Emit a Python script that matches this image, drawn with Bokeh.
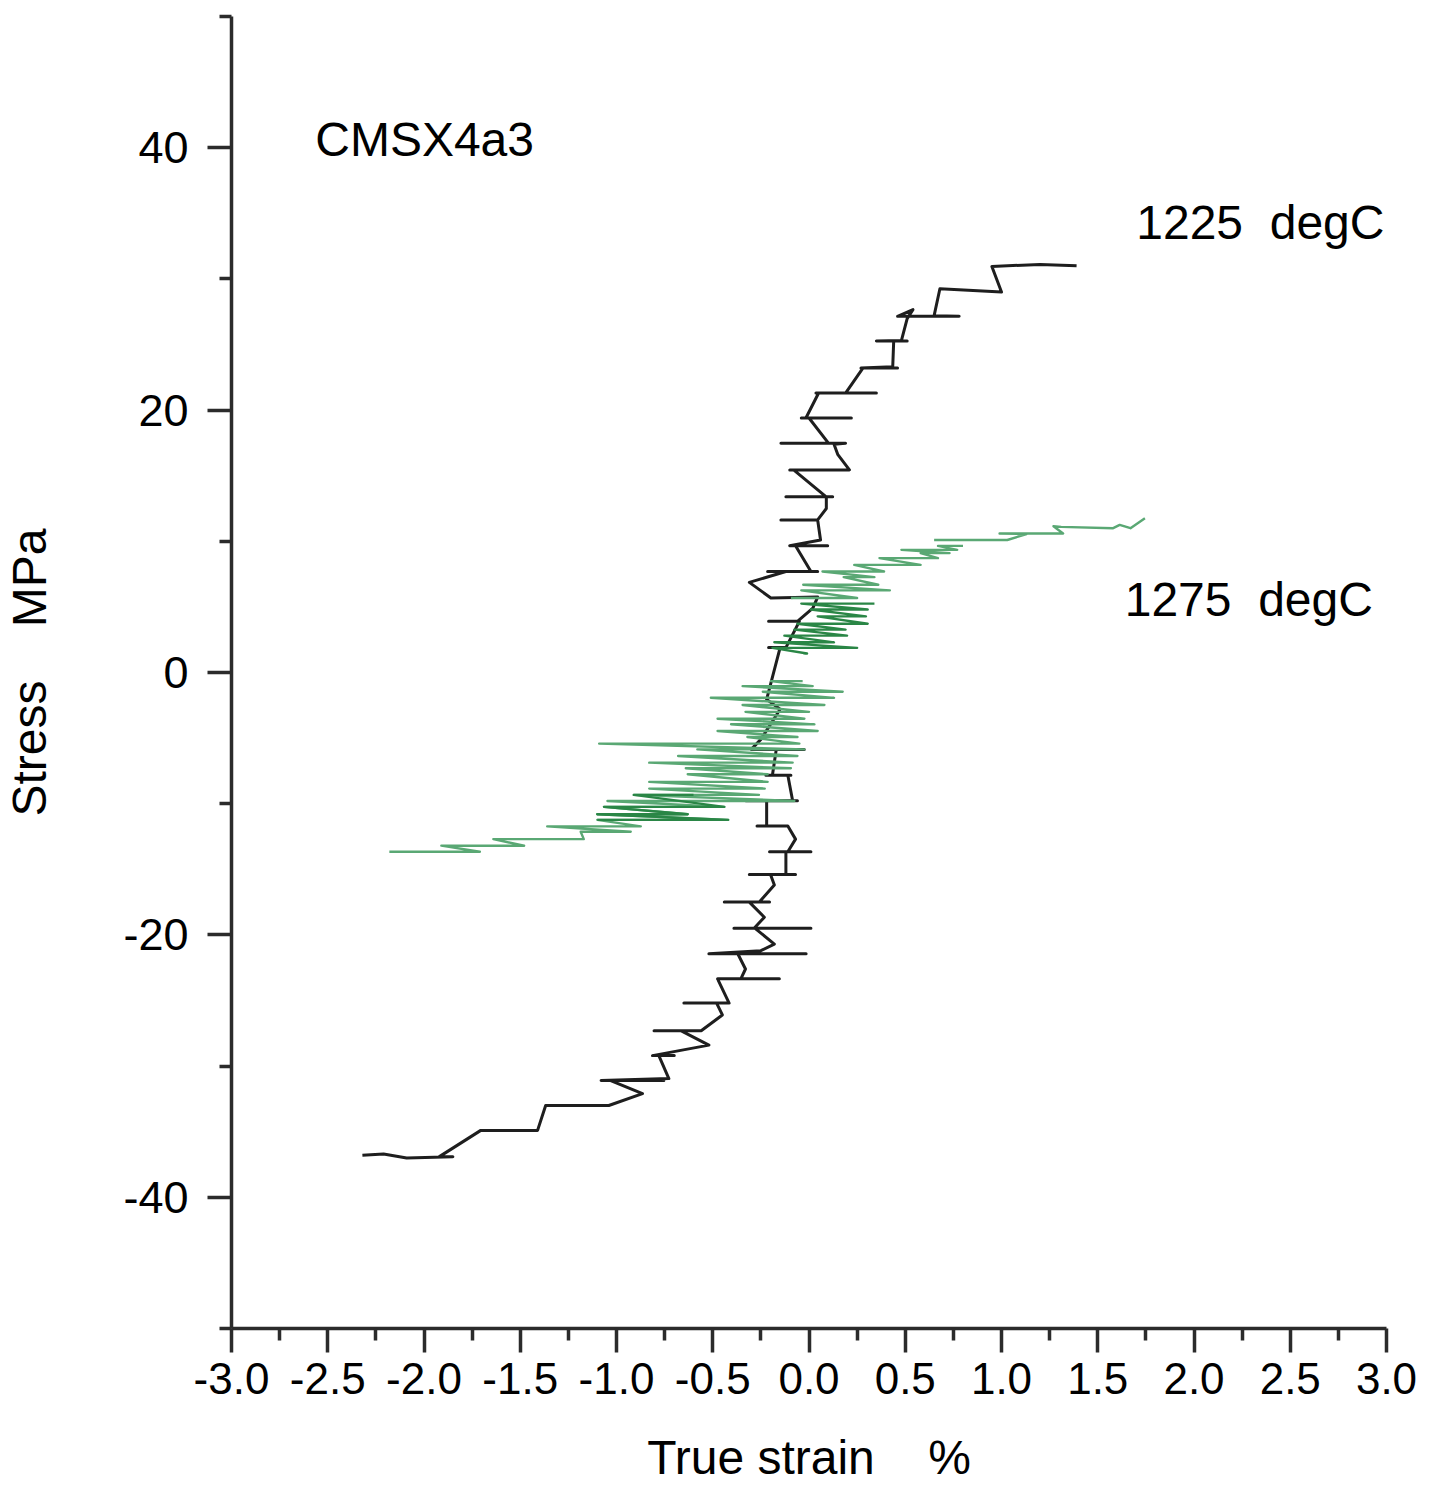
from bokeh.plotting import figure
from bokeh.models import Range1d, FixedTicker, Label
from bokeh.embed import file_html
from bokeh.resources import INLINE

# ---------------- data ----------------
x_ticks = [-3.0, -2.5, -2.0, -1.5, -1.0, -0.5, 0.0, 0.5, 1.0, 1.5, 2.0, 2.5, 3.0]
x_tick_labels = ["-3.0", "-2.5", "-2.0", "-1.5", "-1.0", "-0.5", "0.0", "0.5",
                 "1.0", "1.5", "2.0", "2.5", "3.0"]
x_minor = [-2.75, -2.25, -1.75, -1.25, -0.75, -0.25, 0.25, 0.75, 1.25, 1.75, 2.25, 2.75]
y_ticks = [-40, -20, 0, 20, 40]
y_tick_labels = ["-40", "-20", "0", "20", "40"]
y_minor = [-50, -30, -10, 10, 30, 50]

# 1225 degC curve (strain %, stress MPa)
black_strain = [1.39, 1.20, 0.95, 1.00, 0.68, 0.65, 0.78, 0.46, 0.54, 0.51, 0.48, 0.35, 0.51, 0.44,
                0.435, 0.27, 0.46, 0.28, 0.19, 0.036, 0.35, 0.05, -0.016, -0.04, 0.22, 0.0,
                0.10, -0.146, 0.19, 0.13, 0.15, 0.21, -0.10, -0.08, 0.088, -0.12, 0.123, 0.09,
                0.09, 0.045, -0.146, 0.045, 0.06, -0.10, 0.097, -0.07, 0.01, -0.215, 0.045, -0.12,
                -0.31, -0.198, 0.045, 0.02, -0.06, -0.21, -0.05, -0.12, -0.21, -0.15,
                -0.22, -0.15, -0.25, -0.30, -0.025, -0.17, -0.19, -0.224, -0.094, -0.11,
                -0.085, -0.328, -0.06, -0.22, -0.22, -0.27, -0.11, -0.07, -0.11, -0.205, 0.01,
                -0.12, -0.12, -0.31, -0.07, -0.20, -0.18, -0.258, -0.44, -0.205, -0.31, -0.232,
                -0.285, -0.39, 0.01, -0.28, -0.18, -0.25, -0.52, -0.015, -0.37, -0.33, -0.354,
                -0.475, -0.154, -0.475, -0.415, -0.65, -0.415, -0.48, -0.45, -0.56, -0.805,
                -0.56, -0.666, -0.52, -0.813, -0.70, -0.78, -0.728, -1.08, -0.754, -1.03,
                -0.865, -1.04, -1.368, -1.41, -1.705, -1.92, -1.85, -2.09, -2.21, -2.32]
black_stress = [31.0, 31.1, 30.95, 29.0, 29.25, 27.2, 27.15, 27.15, 27.66, 26.97, 25.3, 25.27, 25.27, 25.27,
                23.3, 23.2, 23.2, 23.2, 21.3, 21.3, 21.3, 21.3, 19.4, 19.4, 19.4, 19.4,
                17.5, 17.47, 17.47, 17.4, 16.6, 15.44, 15.44, 15.44, 13.4, 13.4, 13.4, 13.4,
                12.5, 11.63, 11.63, 11.63, 10.1, 9.66, 9.66, 9.66, 7.7, 7.7, 7.7, 7.7,
                6.87, 5.68, 5.75, 4.9, 3.9, 3.9, 3.9, 1.9, 1.9, 1.9,
                -2.05, -2.8, -5.1, -5.86, -5.86, -5.86, -7.83, -7.83, -7.83, -7.83,
                -9.78, -9.78, -9.78, -9.78, -11.7, -11.7, -11.7, -12.7, -13.66, -13.66, -13.66,
                -13.66, -15.4, -15.4, -15.4, -15.4, -16.2, -17.5, -17.5, -17.5, -17.5, -18.65,
                -19.5, -19.5, -19.5, -19.5, -20.7, -21.2, -21.44, -21.44, -21.44, -22.6, -23.35,
                -23.35, -23.35, -23.35, -25.2, -25.2, -25.2, -25.2, -26.1, -27.3, -27.3,
                -27.3, -27.3, -28.4, -29.2, -29.2, -29.2, -30.95, -31.1, -31.1, -31.1,
                -32.1, -33.0, -33.0, -34.9, -34.9, -36.9, -36.9, -37.0, -36.7, -36.8]

# 1275 degC curve: upper tail (single line)
g_tail_strain = [1.745, 1.67, 1.614, 1.58, 1.31, 1.27, 1.32, 1.10, 0.99, 1.13, 1.03, 0.65]
g_tail_stress = [11.76, 11.0, 11.25, 11.0, 11.1, 11.15, 10.6, 10.6, 10.6, 10.55, 10.1, 10.1]
# 1275 degC, light-green hatch above zero (stress level, strain left end, strain right end)
g1_stress = [9.65, 9.35, 9.1, 8.72, 8.2, 7.7, 7.27, 6.69, 6.26, 5.68]
g1_left = [0.67, 0.48, 0.58, 0.366, 0.235, 0.07, 0.18, -0.03, -0.04, -0.094]
g1_right = [0.80, 0.77, 0.73, 0.67, 0.58, 0.39, 0.34, 0.36, 0.42, 0.25]
# 1275 degC, dark-green hatch near zero
g2_stress = [5.25, 4.8, 4.28, 3.72, 3.27, 2.81, 2.3, 1.88, 1.45]
g2_left = [-0.04, 0.01, 0.045, -0.06, -0.076, -0.128, -0.18, -0.19, -0.03]
g2_right = [0.34, 0.305, 0.296, 0.305, 0.19, 0.198, 0.13, 0.25, -0.01]
# 1275 degC, light-green hatch below zero
g3_stress = [-0.66, -1.04, -1.47, -1.93, -2.48, -3.0, -3.52, -3.95, -4.46, -4.92, -5.42, -5.86,
             -6.36, -6.87, -7.3, -7.76, -8.34, -8.85, -9.33, -9.79, -10.24, -10.8, -11.23,
             -11.73, -12.14, -12.7, -13.2, -13.66]
g3_left = [-0.198, -0.345, -0.24, -0.51, -0.345, -0.33, -0.475, -0.405, -0.475, -0.32, -1.09, -0.58,
           -0.68, -0.83, -0.64, -0.63, -0.83, -0.83, -0.91, -1.047, -1.065, -1.10, -1.10,
           -1.36, -1.186, -1.64, -1.91, -2.18]
g3_right = [-0.033, 0.019, 0.175, 0.13, 0.08, 0.0, -0.024, 0.028, 0.045, -0.06, -0.05, -0.024,
            -0.06, -0.085, -0.094, -0.215, -0.215, -0.23, -0.26, -0.076, -0.44, -0.63, -0.42,
            -0.874, -0.926, -1.17, -1.48, -1.71]
# darker-printed levels inside the negative part
g4_stress = [-9.33, -10.24, -10.8, -11.23]
g4_left = [-0.91, -1.065, -1.10, -1.10]
g4_right = [-0.60, -0.44, -0.63, -0.42]


def hatch(stress, left, right):
    """Each level is run from its right end to its left end, then the trace jumps to the next level."""
    xs, ys = [], []
    for s, l, r in zip(stress, left, right):
        xs += [r, l]
        ys += [s, s]
    return xs, ys


FONT = "Liberation Sans"
LIGHT = "#5aa874"
DARK = "#2a8646"
INK = "#1e1e1e"

p = figure(width=1435, height=1486, output_backend="svg", toolbar_location=None,
           x_range=Range1d(-3.0, 3.0), y_range=Range1d(-50, 50),
           min_border_left=228, min_border_right=49, min_border_top=16, min_border_bottom=153)
p.outline_line_color = None
p.xgrid.visible = False
p.ygrid.visible = False
p.background_fill_color = "white"
p.border_fill_color = "white"

# curves
p.line(black_strain, black_stress, line_color=INK, line_width=3, line_join="round")
p.line(g_tail_strain, g_tail_stress, line_color=LIGHT, line_width=2.4, line_join="round")
gx, gy = hatch(g1_stress, g1_left, g1_right)
p.line(gx, gy, line_color=LIGHT, line_width=2.4, line_join="round")
gx, gy = hatch(g2_stress, g2_left, g2_right)
p.line(gx, gy, line_color=DARK, line_width=2.4, line_join="round")
gx, gy = hatch(g3_stress, g3_left, g3_right)
p.line(gx, gy, line_color=LIGHT, line_width=2.4, line_join="round")
gx, gy = hatch(g4_stress, g4_left, g4_right)
p.line(gx, gy, line_color=DARK, line_width=2.4, line_join="round")

# axes
for ax in (p.xaxis[0], p.yaxis[0]):
    ax.axis_line_color = "#2b2b2b"
    ax.axis_line_width = 3.5
    ax.major_tick_line_color = "#2b2b2b"
    ax.major_tick_line_width = 3.5
    ax.minor_tick_line_color = "#2b2b2b"
    ax.minor_tick_line_width = 3.5
    ax.major_tick_in = 0
    ax.minor_tick_in = 0
    ax.major_tick_out = 24
    ax.minor_tick_out = 12
    ax.major_label_text_font = FONT
    ax.major_label_text_font_size = "44px"
    ax.major_label_text_color = "black"
    ax.axis_label_text_font = FONT
    ax.axis_label_text_font_size = "48px"
    ax.axis_label_text_font_style = "normal"
    ax.axis_label_text_color = "black"

p.yaxis.major_label_text_font_size = "45px"
p.xaxis.ticker = FixedTicker(ticks=x_ticks, minor_ticks=x_minor)
p.yaxis.ticker = FixedTicker(ticks=y_ticks, minor_ticks=y_minor)
p.xaxis.major_label_overrides = {t: l for t, l in zip(x_ticks, x_tick_labels)}
p.yaxis.major_label_overrides = {t: l for t, l in zip(y_ticks, y_tick_labels)}
p.xaxis.major_label_standoff = 10
p.yaxis.major_label_standoff = 19
p.xaxis.axis_label = "True strain\u00a0\u00a0\u00a0\u00a0%"
p.yaxis.axis_label = "Stress\u00a0\u00a0\u00a0\u00a0MPa"
p.xaxis.axis_label_standoff = 34
p.yaxis.axis_label_standoff = 64

# annotations
for txt, x, y in [("CMSX4a3", -2.565, 40.6),
                  ("1225\u00a0\u00a0degC", 1.70, 34.3),
                  ("1275\u00a0\u00a0degC", 1.64, 5.6)]:
    p.add_layout(Label(x=x, y=y, text=txt, text_font=FONT, text_font_size="48px",
                       text_color="black", text_baseline="middle", text_align="left"))

open("out.html", "w").write(file_html(p, INLINE))
